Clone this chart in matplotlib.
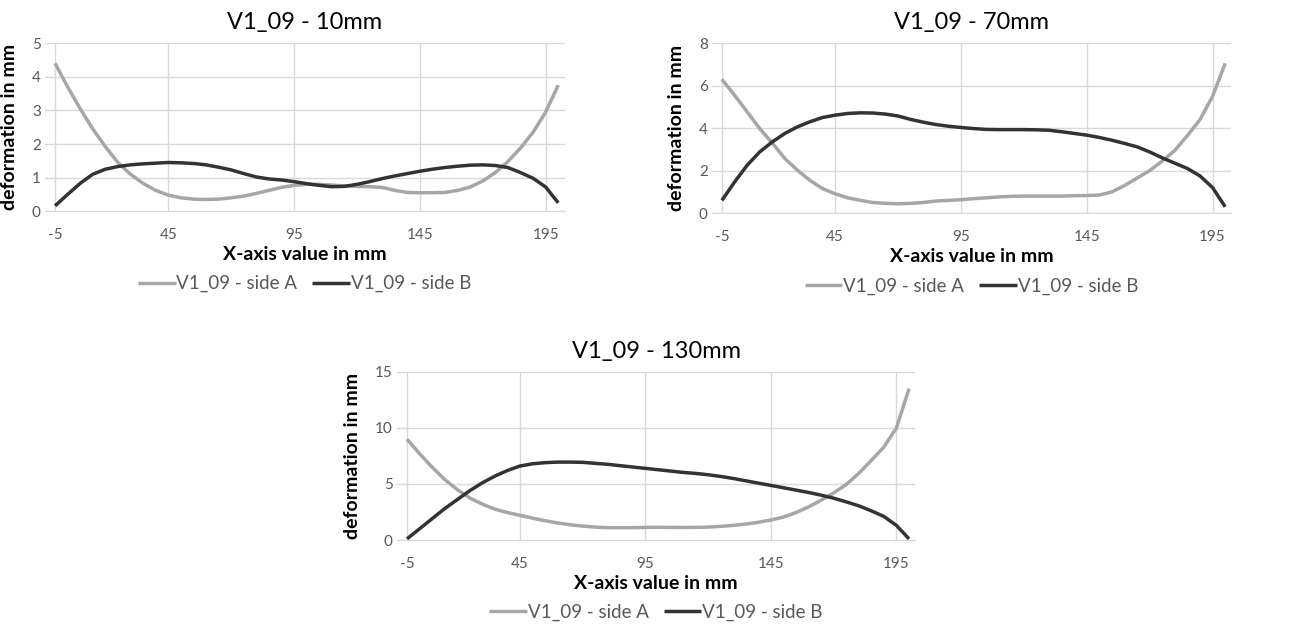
import numpy as np
import matplotlib
matplotlib.use("Agg")
import matplotlib.pyplot as plt

plt.rcParams['font.family'] = ['Lato', 'DejaVu Sans']

# measurement positions along the specimen (mm), used as categories
x_mm = [-5, 5, 10, 15, 20, 25, 30, 35, 40, 45, 50, 55, 60, 65, 70, 75, 80, 85, 90, 95,
        100, 105, 110, 115, 120, 125, 130, 135, 140, 145, 150, 155, 160, 165, 170, 175,
        180, 185, 190, 195, 200]

# 10mm section
a_10 = [4.4, 3.7, 3.05, 2.45, 1.92, 1.45, 1.1, 0.83, 0.62, 0.48, 0.4, 0.36, 0.35, 0.36,
        0.4, 0.45, 0.53, 0.62, 0.71, 0.77, 0.8, 0.8, 0.78, 0.75, 0.74, 0.73, 0.71, 0.62,
        0.56, 0.55, 0.55, 0.56, 0.62, 0.72, 0.9, 1.15, 1.48, 1.88, 2.35, 2.95, 3.75]
b_10 = [0.16, 0.5, 0.83, 1.1, 1.25, 1.33, 1.38, 1.41, 1.43, 1.45, 1.44, 1.42, 1.38, 1.31,
        1.23, 1.12, 1.02, 0.96, 0.93, 0.88, 0.82, 0.77, 0.73, 0.74, 0.8, 0.88, 0.97, 1.05,
        1.12, 1.19, 1.25, 1.3, 1.34, 1.37, 1.38, 1.36, 1.3, 1.15, 0.98, 0.72, 0.25]

# 70mm section
a_70 = [6.3, 5.55, 4.77, 3.98, 3.3, 2.57, 2.02, 1.54, 1.15, 0.91, 0.72, 0.6, 0.5, 0.46,
        0.44, 0.46, 0.5, 0.57, 0.6, 0.63, 0.68, 0.72, 0.76, 0.79, 0.8, 0.8, 0.8, 0.8,
        0.82, 0.83, 0.85, 1.0, 1.3, 1.65, 2.0, 2.45, 2.95, 3.65, 4.4, 5.5, 7.05]
b_70 = [0.6, 1.46, 2.25, 2.88, 3.35, 3.75, 4.06, 4.3, 4.5, 4.61, 4.69, 4.72, 4.71, 4.66,
        4.57, 4.41, 4.28, 4.17, 4.09, 4.03, 3.98, 3.94, 3.93, 3.93, 3.93, 3.92, 3.9, 3.83,
        3.75, 3.67, 3.56, 3.43, 3.28, 3.12, 2.88, 2.6, 2.35, 2.1, 1.75, 1.2, 0.3]

# 130mm section
a_130 = [9.0, 7.7, 6.5, 5.4, 4.5, 3.75, 3.2, 2.75, 2.45, 2.2, 1.95, 1.72, 1.52, 1.36, 1.24,
         1.15, 1.1, 1.1, 1.1, 1.12, 1.14, 1.12, 1.12, 1.13, 1.15, 1.22, 1.3, 1.42, 1.58,
         1.79, 2.05, 2.45, 2.95, 3.55, 4.2, 4.95, 5.95, 7.1, 8.3, 10.0, 13.5]
b_130 = [0.1, 1.0, 1.9, 2.8, 3.6, 4.4, 5.1, 5.7, 6.2, 6.6, 6.8, 6.9, 6.95, 6.95, 6.93,
         6.84, 6.75, 6.63, 6.51, 6.39, 6.27, 6.15, 6.03, 5.94, 5.82, 5.67, 5.49, 5.28,
         5.07, 4.87, 4.66, 4.45, 4.24, 4.0, 3.73, 3.4, 3.05, 2.6, 2.1, 1.3, 0.1]

x_labels = [-5, 45, 95, 145, 195]

GREY = "#A6A6A6"
DARK = "#333333"
TXT = "#595959"


def draw(ax, side_a, side_b, title, ymax, ystep):
    pos = np.arange(len(x_mm))
    ax.plot(pos, side_a, color=GREY, lw=2.5, label="V1_09 - side A", solid_capstyle="butt")
    ax.plot(pos, side_b, color=DARK, lw=2.5, label="V1_09 - side B", solid_capstyle="butt")
    ax.set_xlim(-0.8, len(x_mm) - 0.5)
    ax.set_ylim(0, ymax)
    ax.set_xticks([x_mm.index(v) for v in x_labels])
    ax.set_xticklabels([str(v) for v in x_labels])
    ax.set_yticks(np.arange(0, ymax + 0.01, ystep))
    ax.grid(True, color="#D9D9D9", lw=1)
    ax.set_axisbelow(True)
    for s in ["left", "right", "top"]:
        ax.spines[s].set_visible(False)
    ax.spines["bottom"].set_color("#D9D9D9")
    ax.tick_params(axis="x", length=0, labelsize=11, labelcolor=TXT, pad=12)
    ax.tick_params(axis="y", length=0, labelsize=11, labelcolor=TXT, pad=3)
    ax.set_title(title, fontsize=17, pad=10, color="black")
    ax.set_xlabel("X-axis value in mm", fontsize=14, fontweight="bold", labelpad=3)
    ax.set_ylabel("deformation in mm", fontsize=14, fontweight="bold", labelpad=10)
    leg = ax.legend(loc="upper center", bbox_to_anchor=(0.5, -0.28), ncol=2,
                    frameon=False, fontsize=13.5, handlelength=2.0, columnspacing=0.8,
                    handletextpad=0.05)
    for t in leg.get_texts():
        t.set_color(TXT)


fig = plt.figure(figsize=(12.99, 6.25), dpi=100)
ax1 = fig.add_axes([0.0346, 0.662, 0.400, 0.269])
ax2 = fig.add_axes([0.548, 0.659, 0.400, 0.272])
ax3 = fig.add_axes([0.3056, 0.136, 0.399, 0.269])

draw(ax1, a_10, b_10, "V1_09 - 10mm", 5, 1)
draw(ax2, a_70, b_70, "V1_09 - 70mm", 8, 2)
draw(ax3, a_130, b_130, "V1_09 - 130mm", 15, 5)

fig.savefig("out.png", dpi=100)
